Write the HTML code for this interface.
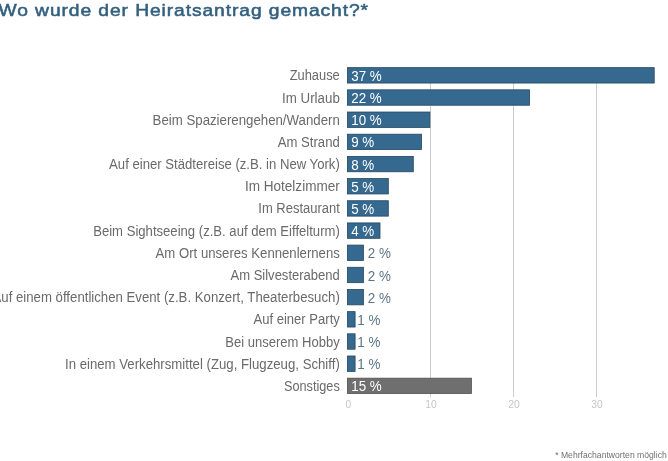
<!DOCTYPE html>
<html lang="de"><head><meta charset="utf-8"><title>Wo wurde der Heiratsantrag gemacht?</title>
<style>
html,body{margin:0;padding:0;background:#fff;}
body{width:668px;height:461px;overflow:hidden;position:relative;font-family:"Liberation Sans",sans-serif;}
svg{position:absolute;left:0;top:0;display:block;}
text{font-family:"Liberation Sans",sans-serif;}
.t{font-size:17px;font-weight:normal;fill:#33607f;stroke:#33607f;stroke-width:0.55px;letter-spacing:0.8px;}
.l{font-size:13.8px;fill:#6a6a6a;text-anchor:end;}
.vi{font-size:14px;fill:#ffffff;}
.vo{font-size:14px;fill:#5c7586;}
.ax{font-size:10.3px;fill:#c6c6c6;text-anchor:middle;}
.f{font-size:9px;fill:#707070;text-anchor:end;}
</style></head><body>
<svg width="668" height="461" viewBox="0 0 668 461">
<rect width="668" height="461" fill="#ffffff"/>
<text class="t" x="-1.5" y="15.7" textLength="370.5" lengthAdjust="spacingAndGlyphs">Wo wurde der Heiratsantrag gemacht?*</text>

<text class="ax" x="348.4" y="407.8">0</text>
<line x1="430.5" y1="69" x2="430.5" y2="397" stroke="#cccccc" stroke-width="1"/>
<text class="ax" x="431.0" y="407.8">10</text>
<line x1="513.5" y1="69" x2="513.5" y2="397" stroke="#cccccc" stroke-width="1"/>
<text class="ax" x="514.0" y="407.8">20</text>
<line x1="596.5" y1="69" x2="596.5" y2="397" stroke="#cccccc" stroke-width="1"/>
<text class="ax" x="597.1" y="407.8">30</text>
<rect x="347.4" y="67.65" width="306.8" height="15.4" fill="#36698f" stroke="#25475f" stroke-width="0.8"/>
<text class="l" x="339.8" y="80.35" textLength="50.1" lengthAdjust="spacingAndGlyphs">Zuhause</text>
<text class="vi" x="351.2" y="80.95" textLength="30.5" lengthAdjust="spacingAndGlyphs">37 %</text>
<rect x="347.4" y="89.83" width="182.2" height="15.4" fill="#36698f" stroke="#25475f" stroke-width="0.8"/>
<text class="l" x="339.8" y="102.53" textLength="57.7" lengthAdjust="spacingAndGlyphs">Im Urlaub</text>
<text class="vi" x="351.2" y="103.13" textLength="30.5" lengthAdjust="spacingAndGlyphs">22 %</text>
<rect x="347.4" y="112.01" width="82.5" height="15.4" fill="#36698f" stroke="#25475f" stroke-width="0.8"/>
<text class="l" x="339.8" y="124.71" textLength="187.2" lengthAdjust="spacingAndGlyphs">Beim Spazierengehen/Wandern</text>
<text class="vi" x="351.2" y="125.31" textLength="30.5" lengthAdjust="spacingAndGlyphs">10 %</text>
<rect x="347.4" y="134.19" width="74.2" height="15.4" fill="#36698f" stroke="#25475f" stroke-width="0.8"/>
<text class="l" x="339.8" y="146.89" textLength="62.1" lengthAdjust="spacingAndGlyphs">Am Strand</text>
<text class="vi" x="351.2" y="147.49" textLength="23.1" lengthAdjust="spacingAndGlyphs">9 %</text>
<rect x="347.4" y="156.37" width="65.9" height="15.4" fill="#36698f" stroke="#25475f" stroke-width="0.8"/>
<text class="l" x="339.8" y="169.07" textLength="230.7" lengthAdjust="spacingAndGlyphs">Auf einer Städtereise (z.B. in New York)</text>
<text class="vi" x="351.2" y="169.67" textLength="23.1" lengthAdjust="spacingAndGlyphs">8 %</text>
<rect x="347.4" y="178.55" width="40.9" height="15.4" fill="#36698f" stroke="#25475f" stroke-width="0.8"/>
<text class="l" x="339.8" y="191.25" textLength="94.9" lengthAdjust="spacingAndGlyphs">Im Hotelzimmer</text>
<text class="vi" x="351.2" y="191.85" textLength="23.1" lengthAdjust="spacingAndGlyphs">5 %</text>
<rect x="347.4" y="200.73" width="40.9" height="15.4" fill="#36698f" stroke="#25475f" stroke-width="0.8"/>
<text class="l" x="339.8" y="213.43" textLength="81.5" lengthAdjust="spacingAndGlyphs">Im Restaurant</text>
<text class="vi" x="351.2" y="214.03" textLength="23.1" lengthAdjust="spacingAndGlyphs">5 %</text>
<rect x="347.4" y="222.91" width="32.6" height="15.4" fill="#36698f" stroke="#25475f" stroke-width="0.8"/>
<text class="l" x="339.8" y="235.61" textLength="246.6" lengthAdjust="spacingAndGlyphs">Beim Sightseeing (z.B. auf dem Eiffelturm)</text>
<text class="vi" x="351.2" y="236.21" textLength="23.1" lengthAdjust="spacingAndGlyphs">4 %</text>
<rect x="347.4" y="245.09" width="16.0" height="15.4" fill="#36698f" stroke="#25475f" stroke-width="0.8"/>
<text class="l" x="339.8" y="257.79" textLength="184.2" lengthAdjust="spacingAndGlyphs">Am Ort unseres Kennenlernens</text>
<text class="vo" x="367.8" y="258.39" textLength="23.1" lengthAdjust="spacingAndGlyphs">2 %</text>
<rect x="347.4" y="267.27" width="16.0" height="15.4" fill="#36698f" stroke="#25475f" stroke-width="0.8"/>
<text class="l" x="339.8" y="279.97" textLength="109.3" lengthAdjust="spacingAndGlyphs">Am Silvesterabend</text>
<text class="vo" x="367.8" y="280.57" textLength="23.1" lengthAdjust="spacingAndGlyphs">2 %</text>
<rect x="347.4" y="289.45" width="16.0" height="15.4" fill="#36698f" stroke="#25475f" stroke-width="0.8"/>
<text class="l" x="339.8" y="302.15" textLength="347.3" lengthAdjust="spacingAndGlyphs">Auf einem öffentlichen Event (z.B. Konzert, Theaterbesuch)</text>
<text class="vo" x="367.8" y="302.75" textLength="23.1" lengthAdjust="spacingAndGlyphs">2 %</text>
<rect x="347.4" y="311.63" width="7.7" height="15.4" fill="#36698f" stroke="#25475f" stroke-width="0.8"/>
<text class="l" x="339.8" y="324.33" textLength="86.3" lengthAdjust="spacingAndGlyphs">Auf einer Party</text>
<text class="vo" x="357.3" y="324.93" textLength="23.1" lengthAdjust="spacingAndGlyphs">1 %</text>
<rect x="347.4" y="333.81" width="7.7" height="15.4" fill="#36698f" stroke="#25475f" stroke-width="0.8"/>
<text class="l" x="339.8" y="346.51" textLength="114.6" lengthAdjust="spacingAndGlyphs">Bei unserem Hobby</text>
<text class="vo" x="357.3" y="347.11" textLength="23.1" lengthAdjust="spacingAndGlyphs">1 %</text>
<rect x="347.4" y="355.99" width="7.7" height="15.4" fill="#36698f" stroke="#25475f" stroke-width="0.8"/>
<text class="l" x="339.8" y="368.69" textLength="274.8" lengthAdjust="spacingAndGlyphs">In einem Verkehrsmittel (Zug, Flugzeug, Schiff)</text>
<text class="vo" x="357.3" y="369.29" textLength="23.1" lengthAdjust="spacingAndGlyphs">1 %</text>
<rect x="347.4" y="378.17" width="124.0" height="15.4" fill="#6f6f6f" stroke="#505050" stroke-width="0.8"/>
<text class="l" x="339.8" y="390.87" textLength="55.9" lengthAdjust="spacingAndGlyphs">Sonstiges</text>
<text class="vi" x="351.2" y="391.47" textLength="30.5" lengthAdjust="spacingAndGlyphs">15 %</text>
<text class="f" x="666.8" y="458" textLength="111.6" lengthAdjust="spacingAndGlyphs">* Mehrfachantworten möglich</text>
</svg></body></html>
